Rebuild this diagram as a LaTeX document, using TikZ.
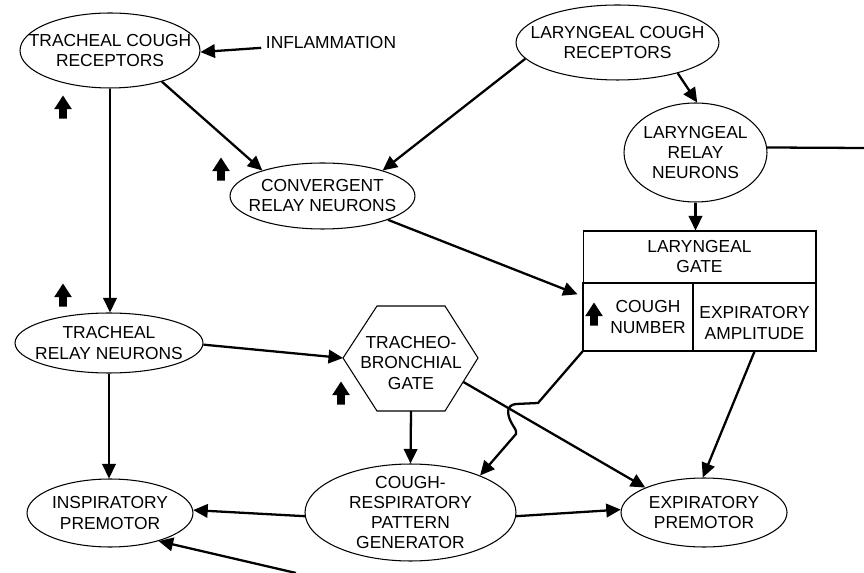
\documentclass[tikz,border=0pt]{standalone}
\usepackage{fontspec}
\setmainfont{Liberation Sans}
\usetikzlibrary{
  positioning,
  arrows.meta,
  shapes.geometric,
  shapes.arrows,
  calc
}
\newcommand{\labelfont}{\fontsize{9.9}{11.4}\selectfont}
\tikzset{
  >=Triangle,
  flowarrow/.style={-{Triangle[length=2.9mm,width=2.7mm]},line width=1.3pt},
  flowline/.style={line width=1.3pt},
  region/.style={ellipse,draw,line width=0.6pt,align=center,
    inner xsep=-2cm,inner ysep=-1cm,font=\labelfont},
  cell/.style={rectangle,draw,line width=0.6pt,align=center,inner sep=0pt,font=\labelfont},
  txt/.style={align=center,inner sep=0pt,font=\labelfont},
  upmark/.style={single arrow,fill=black,draw=none,shape border rotate=90,
    minimum height=4.6mm,minimum width=3.4mm,inner sep=2pt,
    single arrow head extend=1mm,single arrow tip angle=66}
}

\begin{document}
\begin{tikzpicture}[x=0.02cm, y=-0.02cm]
    \useasboundingbox (0,0) rectangle (864,573);

    \node[region,minimum width=3.6cm,minimum height=1.5cm] (tcr) at (110,50.5) {TRACHEAL COUGH\\RECEPTORS};
    \node[txt] (infl) at (331,43) {INFLAMMATION};
    \node[region,minimum width=4.06cm,minimum height=1.5cm] (lcr) at (617.5,42.5) {LARYNGEAL COUGH\\RECEPTORS};
    \node[region,minimum width=2.86cm,minimum height=1.98cm] (lrn) at (695.5,152.5) {LARYNGEAL\\RELAY\\NEURONS};
    \node[region,minimum width=3.7cm,minimum height=1.32cm] (conv) at (322.5,196) {CONVERGENT\\RELAY NEURONS};
    \node[region,minimum width=3.76cm,minimum height=1.2cm] (trn) at (109,343) {TRACHEAL\\RELAY NEURONS};
    \node[region,minimum width=3.32cm,minimum height=1.36cm] (ipm) at (110,513) {INSPIRATORY\\PREMOTOR};
    \node[region,minimum width=4.22cm,minimum height=1.94cm] (crpg) at (410.5,512.5) {COUGH-\\RESPIRATORY\\PATTERN\\GENERATOR};
    \node[region,minimum width=3.32cm,minimum height=1.38cm] (epm) at (704,512.5) {EXPIRATORY\\PREMOTOR};

    \node[cell,minimum width=4.66cm,minimum height=1.04cm] (lgtop) at (699.5,257) {LARYNGEAL\\GATE};
    \node[cell,minimum width=2.2cm,minimum height=1.36cm] (lgnum) at (638,317) {};
    \node[cell,minimum width=2.46cm,minimum height=1.36cm] (lgamp) at (754.5,317) {};
    \node[txt] (numtxt) at (648,317) {COUGH\\NUMBER};
    \node[txt] (amptxt) at (754.5,323) {EXPIRATORY\\AMPLITUDE};

    \coordinate (tbgW) at (343,358);
    \coordinate (tbgNW) at (377,306);
    \coordinate (tbgNE) at (445,306);
    \coordinate (tbgE) at (478,358);
    \coordinate (tbgSE) at (445,411);
    \coordinate (tbgSW) at (377,411);
    \draw[line width=0.6pt] (tbgW) -- (tbgNW) -- (tbgNE) -- (tbgE) -- (tbgSE) -- (tbgSW) -- cycle;
    \node[txt] (tbg) at (411,363) {TRACHEO-\\BRONCHIAL\\GATE};

    \node[upmark] (up1) at (63,110) {};
    \node[upmark] (up2) at (221,172) {};
    \node[upmark] (up3) at (63,298) {};
    \node[upmark] (up4) at (341,396) {};
    \node[upmark] (up5) at (594,317) {};

    \coordinate (redge) at (864,148);
    \coordinate (bedge) at (296,573);
    \coordinate (hopA) at (538,403);
    \coordinate (hopB) at (516,404);
    \coordinate (hopC) at (511,422);
    \coordinate (hopD) at (516,434);

    \draw[flowarrow,shorten <=2.5pt] (infl) -- (tcr.-1);
    \draw[flowarrow] (tcr.-31) -- (conv.157);
    \draw[flowarrow] (lcr.190) -- (conv.23);
    \draw[flowarrow] (lcr.-27) -- (lrn.88);
    \draw[flowline] (lrn.4) -- (redge);
    \draw[flowarrow] (lrn.south) -- (lrn.south |- lgtop.north);
    \draw[flowarrow,shorten >=3pt] (conv.-20) -- ($(lgnum.north west)!0.2!(lgnum.south west)$);
    \draw[flowarrow] (tcr.south) -- (tcr.south |- trn.north);
    \draw[flowarrow] (trn.-1) -- (tbgW);
    \draw[flowarrow] (trn.south) -- (trn.south |- ipm.north);
    \draw[flowarrow] ($(tbgSW)!0.5!(tbgSE)$) -- (crpg.north);
    \draw[flowarrow] (crpg.182) -- (ipm.2);
    \draw[flowarrow] (crpg.-2) -- (epm.178);
    \draw[flowarrow] ($(tbgE)!0.45!(tbgSE)$) -- (epm.157);
    \draw[flowarrow] (lgamp.south) -- (epm.92);
    \draw[flowarrow] (lgnum.south west) -- (hopA) -- (hopB)
        .. controls (506,405) and (507,414) .. (hopC)
        .. controls (514,428) and (517,430) .. (hopD) -- (crpg.28);
    \draw[flowarrow] (bedge) -- (ipm.-30);
\end{tikzpicture}
\end{document}
